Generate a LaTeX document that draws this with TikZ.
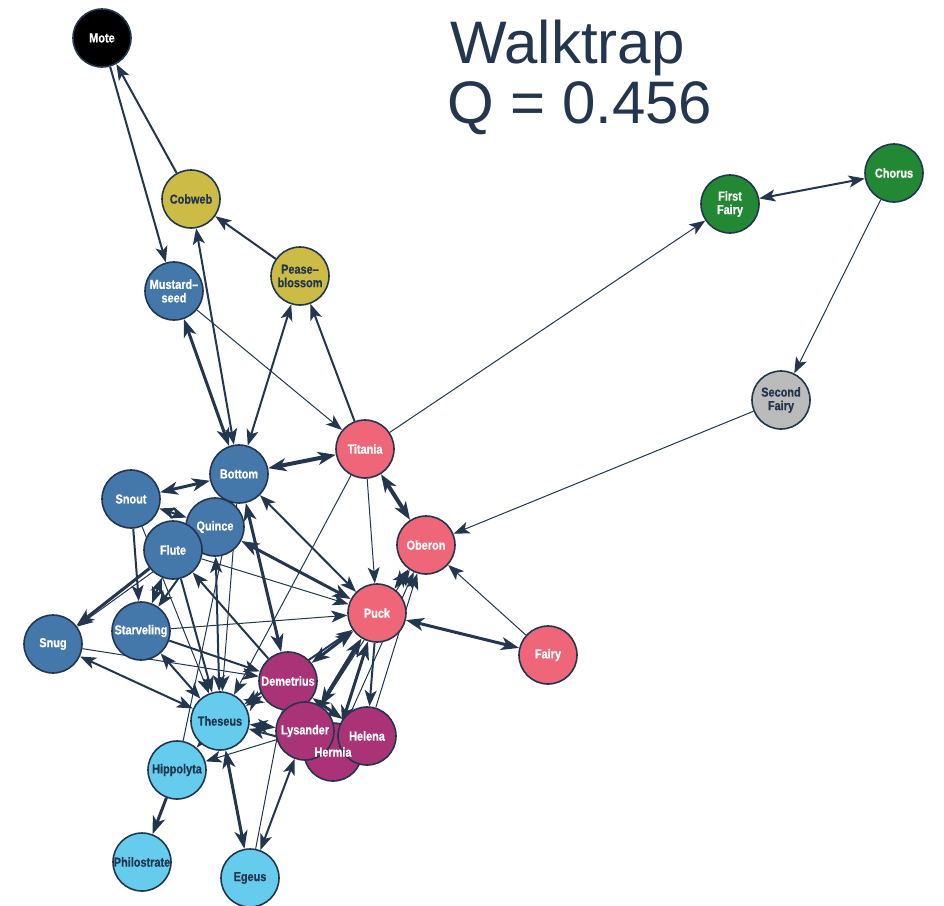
\documentclass[tikz,border=0pt]{standalone}
\usepackage{fontspec}
\setmainfont{Liberation Sans}
\newfontfamily\labfont[FakeStretch=0.84,FakeBold=0.6,UprightFont={* Bold},BoldFont={* Bold}]{Liberation Sans}
\usetikzlibrary{arrows.meta}
\pgfdeclarelayer{bg}
\pgfdeclarelayer{fg}
\pgfsetlayers{bg,main,fg}
\definecolor{navy}{RGB}{34,54,80}
\definecolor{tblue}{RGB}{68,119,170}
\definecolor{tred}{RGB}{238,102,119}
\definecolor{tpurple}{RGB}{170,51,119}
\definecolor{tcyan}{RGB}{102,204,238}
\definecolor{tgreen}{RGB}{34,136,51}
\definecolor{tyellow}{RGB}{204,187,68}
\definecolor{tgrey}{RGB}{187,187,187}
\tikzset{
  lab/.style={font=\labfont\fontsize{13}{13.5}\selectfont, align=center},
  vtx/.style={circle, draw=navy, line width=1.6pt, minimum size=58pt, inner sep=0pt, lab},
  wt/.style={vtx, text=white},
  dk/.style={vtx, text=navy},
  tipA/.tip={Stealth[length=16pt,width=12pt,inset=4pt]},
  tipB/.tip={Stealth[length=18pt,width=13pt,inset=5pt]},
  e1/.style={draw=navy, line width=1pt},
  e2/.style={draw=navy, line width=2pt},
  e3/.style={draw=navy, line width=3pt},
  e4/.style={draw=navy, line width=4pt},
  s/.style={-tipA}, d/.style={tipA-tipA},
  S/.style={-tipB}, D/.style={tipB-tipB},
  title/.style={font=\fontsize{60}{60}\selectfont, text=navy, anchor=base west, inner sep=0pt}
}
\begin{document}
\begin{tikzpicture}[x=1pt,y=-1pt]
\useasboundingbox (0,0) rectangle (944,905);
\node[title] (t1) at (450,63) {Walktrap};
\node[title] (t2) at (447,123) {Q = 0.456};
% nodes
\node[wt, fill=black] (mote) at (102,38) {Mote};
\node[dk, fill=tyellow] (cobweb) at (191,199) {Cobweb};
\node[wt, fill=tblue] (mustard) at (174,291) {Mustard–\\seed};
\node[dk, fill=tyellow] (pease) at (300,276) {Pease–\\blossom};
\node[wt, fill=tgreen] (ffairy) at (730,204) {First\\Fairy};
\node[wt, fill=tgreen] (chorus) at (894,173) {Chorus};
\node[dk, fill=tgrey] (sfairy) at (781,400) {Second\\Fairy};
\node[wt, fill=tred] (titania) at (365,449) {Titania};
\node[wt, fill=tblue] (bottom) at (239,474) {Bottom};
\node[wt, fill=tblue] (snout) at (131,499) {Snout};
\node[wt, fill=tblue] (quince) at (215,527) {Quince};
\node[wt, fill=tblue] (flute) at (173,550) {Flute};
\node[wt, fill=tblue] (starv) at (141,631) {Starveling};
\node[wt, fill=tblue] (snug) at (53,644) {Snug};
\node[wt, fill=tred] (oberon) at (426,545) {Oberon};
\node[wt, fill=tred] (puck) at (377,613) {Puck};
\node[wt, fill=tred] (fairy) at (548,655) {Fairy};
\node[dk, fill=tcyan] (theseus) at (220,721) {Theseus};
\node[dk, fill=tcyan] (hippo) at (177,770) {Hippolyta};
\node[dk, fill=tcyan] (philo) at (142,862) {Philostrate};
\node[dk, fill=tcyan] (egeus) at (250,878) {Egeus};
\node[wt, fill=tpurple] (hermia) at (333,752) {};
\node[wt, fill=tpurple] (demet) at (288,681) {Demetrius};
\node[wt, fill=tpurple] (lysander) at (305,731) {Lysander};
\node[wt, fill=tpurple] (helena) at (367,736) {Helena};
\begin{pgfonlayer}{fg}
\node[lab, text=white] (hermialab) at (hermia) {Hermia};
\end{pgfonlayer}
% edges
\begin{pgfonlayer}{bg}
\draw[e2,s] (mote) -- (mustard);
\draw[e2,s] (cobweb) -- (mote);
\draw[e2,s] (pease) -- (cobweb);
\draw[e2,d] (bottom) -- (cobweb);
\draw[e3,D] (bottom) -- (mustard);
\draw[e2,d] (bottom) -- (pease);
\draw[e2,s] (titania) -- (pease);
\draw[e1,s] (mustard) -- (titania);
\draw[e1,s] (titania) -- (ffairy);
\draw[e2,d] (ffairy) -- (chorus);
\draw[e1,s] (chorus) -- (sfairy);
\draw[e1,s] (sfairy) -- (oberon);
\draw[e4,D] (bottom) -- (titania);
\draw[e4,D] (titania) -- (oberon);
\draw[e1,s] (titania) -- (puck);
\draw[e1,s] (titania) -- (theseus);
\draw[e3,D] (bottom) -- (snout);
\draw[e2,d] (snout) -- (quince);
\draw[e2,s] (snout) -- (starv);
\draw[e3,S] (flute) -- (snug);
\draw[e1,s] (quince) -- (snug);
\draw[e2,d] (flute) -- (starv);
\draw[e2,d] (quince) -- (starv);
\draw[e3,D] (quince) -- (puck);
\draw[e2,d] (bottom) -- (puck);
\draw[e1,s] (flute) -- (puck);
\draw[e1,s] (starv) -- (puck);
\draw[e1,s] (snug) -- (demet);
\draw[e2,d] (snug) -- (theseus);
\draw[e2,d] (starv) -- (theseus);
\draw[e2,s] (starv) -- (demet);
\draw[e2,s] (demet) -- (flute);
\draw[e3,D] (bottom) -- (demet);
\draw[e2,d] (quince) -- (theseus);
\draw[e2,s] (flute) -- (theseus);
\draw[e1,s] (snout) -- (theseus);
\draw[e1,s] (bottom) -- (theseus);
\draw[e1] (bottom) -- (hippo);
\draw[e4,D] (puck) -- (oberon);
\draw[e3,D] (puck) -- (fairy);
\draw[e1,s] (fairy) -- (oberon);
\draw[e3,D] (puck) -- (demet);
\draw[e4,D] (puck) -- (lysander);
\draw[e3,D] (puck) -- (hermia);
\draw[e2,s] (puck) -- (helena);
\draw[e1,s] (helena) -- (oberon);
\draw[e1,s] (hermia) -- (oberon);
\draw[e1,s] (lysander) -- (oberon);
\draw[e2,d] (theseus) -- (puck);
\draw[e3,D] (theseus) -- (demet);
\draw[e4,D] (theseus) -- (lysander);
\draw[e2,d] (theseus) -- (hermia);
\draw[e3,D] (theseus) -- (hippo);
\draw[e3,D] (theseus) -- (egeus);
\draw[e2,d] (lysander) -- (egeus);
\draw[e1] (egeus) -- (demet);
\draw[e3,S] (hippo) -- (philo);
\draw[e1,s] (lysander) -- (hippo);
\draw[e3,D] (demet) -- (lysander);
\draw[e3,D] (demet) -- (helena);
\draw[e2,d] (demet) -- (hermia);
\draw[e2,d] (lysander) -- (helena);
\end{pgfonlayer}
\end{tikzpicture}
\end{document}
